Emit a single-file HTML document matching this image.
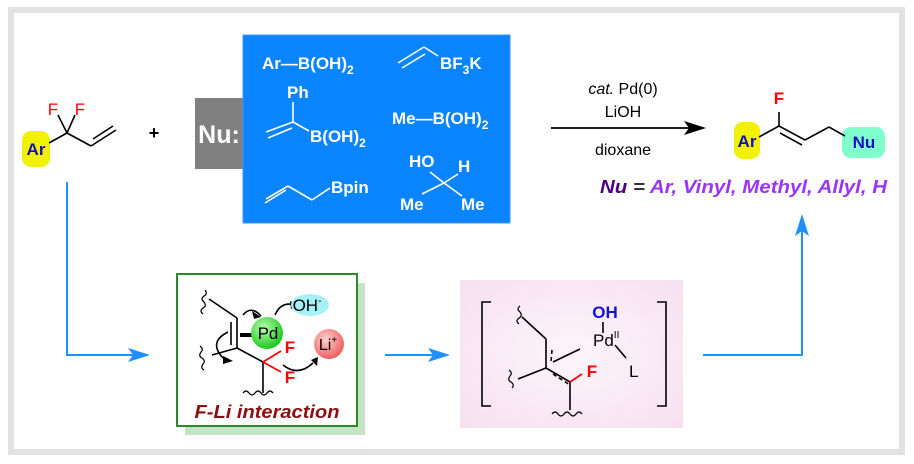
<!DOCTYPE html>
<html><head><meta charset="utf-8"><style>
html,body{margin:0;padding:0;background:#fff;}
svg{display:block;font-family:"Liberation Sans",Arial,sans-serif;}
</style></head><body>
<svg width="914" height="464" viewBox="0 0 914 464" xmlns="http://www.w3.org/2000/svg">
<defs>
<radialGradient id="gG" cx="40%" cy="35%" r="65%"><stop offset="0" stop-color="#b8ffb0"/><stop offset="1" stop-color="#1cc81c"/></radialGradient>
<radialGradient id="gR" cx="40%" cy="35%" r="65%"><stop offset="0" stop-color="#ffd0d0"/><stop offset="1" stop-color="#f06060"/></radialGradient>
<radialGradient id="gP" cx="50%" cy="50%" r="70%"><stop offset="0" stop-color="#fdf5fb"/><stop offset="1" stop-color="#f6e0ef"/></radialGradient>
</defs>
<rect x="11" y="10" width="891" height="442" fill="#fff" stroke="#e2e2e2" stroke-width="6"/>

<!-- starting material -->
<rect x="22" y="131" width="28" height="36" rx="9" fill="#f2f200"/>
<text x="36" y="155" font-size="17" font-weight="bold" fill="#1010c0" text-anchor="middle">Ar</text>
<g stroke="#000" stroke-width="1.6" fill="none">
<line x1="49" y1="143" x2="67" y2="133"/>
<line x1="67" y1="133" x2="91" y2="146"/>
<line x1="91" y1="146" x2="116" y2="130"/>
<line x1="93" y1="139" x2="113" y2="126"/>
</g>
<g stroke="#000" stroke-width="1.6"><line x1="67" y1="133" x2="58" y2="115"/><line x1="67" y1="133" x2="75" y2="115"/></g>
<text x="53" y="115" font-size="17" fill="#f00" text-anchor="middle">F</text>
<text x="80" y="115" font-size="17" fill="#f00" text-anchor="middle">F</text>
<text x="154" y="139" font-size="18" font-weight="bold" text-anchor="middle">+</text>

<!-- Nu box -->
<rect x="195" y="98" width="48" height="71" fill="#808080"/>
<text x="219" y="143" font-size="25" font-weight="bold" fill="#fff" text-anchor="middle">Nu:</text>
<rect x="243" y="35" width="267" height="188" fill="#0a84ff" stroke="#3c96ff"/>
<g fill="#fff" font-size="17" font-weight="bold">
<text x="262" y="69">Ar—B(OH)<tspan font-size="12" dy="5">2</tspan></text>
<text x="440" y="69">BF<tspan font-size="12" dy="5">3</tspan><tspan dy="-5">K</tspan></text>
<text x="287" y="98">Ph</text>
<text x="310" y="142">B(OH)<tspan font-size="12" dy="5">2</tspan></text>
<text x="392" y="124">Me—B(OH)<tspan font-size="12" dy="5">2</tspan></text>
<text x="331" y="193">Bpin</text>
<text x="409" y="167">HO</text>
<text x="458" y="172">H</text>
<text x="400" y="210">Me</text>
<text x="461" y="210">Me</text>
</g>
<g stroke="#fff" stroke-width="1.6" fill="none">
<line x1="398" y1="63" x2="424" y2="47"/><line x1="402" y1="68" x2="425" y2="54"/><line x1="424" y1="47" x2="438" y2="56"/>
<line x1="293" y1="102" x2="293" y2="122"/><line x1="293" y1="122" x2="309" y2="131"/>
<line x1="266" y1="132" x2="293" y2="122"/><line x1="268" y1="138" x2="292" y2="128"/>
<line x1="265" y1="203" x2="286" y2="190"/><line x1="266" y1="199" x2="288" y2="186"/><line x1="288" y1="186" x2="312" y2="200"/><line x1="312" y1="200" x2="330" y2="188"/>
<line x1="444" y1="183" x2="422" y2="194"/><line x1="444" y1="183" x2="430" y2="172"/><line x1="444" y1="183" x2="458" y2="174"/><line x1="444" y1="183" x2="462" y2="196"/>
</g>

<!-- reaction arrow -->
<line x1="551" y1="128" x2="690" y2="128" stroke="#000" stroke-width="1.8"/>
<polygon points="706,128 684,121 689,128 684,135" fill="#000"/>
<text x="623" y="94" font-size="16" text-anchor="middle"><tspan font-style="italic">cat.</tspan> Pd(0)</text>
<text x="623" y="117" font-size="16" text-anchor="middle">LiOH</text>
<text x="623" y="155" font-size="16" text-anchor="middle">dioxane</text>

<!-- product -->
<rect x="734" y="122" width="26" height="37" rx="9" fill="#f2f200"/>
<text x="747" y="147" font-size="17" font-weight="bold" fill="#1010c0" text-anchor="middle">Ar</text>
<rect x="842" y="127" width="43" height="31" rx="9" fill="#80ffcc"/>
<text x="864" y="148" font-size="17" font-weight="bold" fill="#1010c0" text-anchor="middle">Nu</text>
<g stroke="#000" stroke-width="1.6" fill="none">
<line x1="759" y1="137" x2="779" y2="126"/>
<line x1="779" y1="126" x2="805" y2="140"/><line x1="780" y1="133" x2="802" y2="145"/>
<line x1="805" y1="140" x2="829" y2="127"/><line x1="829" y1="127" x2="845" y2="136"/>
</g>
<line x1="779" y1="126" x2="779" y2="112" stroke="#000" stroke-width="1.6"/>
<text x="779" y="104" font-size="17" font-weight="bold" fill="#f00" text-anchor="middle">F</text>
<text x="600" y="193" font-size="18" font-weight="bold" font-style="italic" fill="#9933ff" textLength="287" lengthAdjust="spacingAndGlyphs"><tspan fill="#4b0082">Nu</tspan><tspan fill="#333"> = </tspan>Ar, Vinyl, Methyl, Allyl, H</text>

<!-- blue arrows -->
<g stroke="#1e90ff" stroke-width="2" fill="none">
<polyline points="67,182 67,355 140,355"/>
<line x1="385" y1="355" x2="440" y2="355"/>
<polyline points="703,355 802,355 802,228"/>
</g>
<polygon points="150,355 128,348 133,355 128,362" fill="#1e90ff"/>
<polygon points="450,355 428,348 433,355 428,362" fill="#1e90ff"/>
<polygon points="802,214 795,236 802,231 809,236" fill="#1e90ff"/>

<!-- green box -->
<rect x="185" y="283" width="180" height="152" fill="#c6e3c6"/>
<rect x="177" y="274" width="180" height="152" fill="#fff" stroke="#2a8a2a" stroke-width="2"/>
<g stroke="#000" stroke-width="1.6" fill="none">
<path d="M205,290 q3,4 -1,6 q-4,3 0,6 q3,4 -1,6 q-4,3 0,6" stroke-width="1.2"/>
<line x1="209" y1="299" x2="237" y2="318"/>
<line x1="237" y1="318" x2="237" y2="348"/><line x1="231" y1="322" x2="231" y2="345"/>
<path d="M200,346 q4,3 1,6 q-3,4 1,6 q4,3 1,6 q-3,4 1,6" stroke-width="1.2"/>
<line x1="212" y1="355" x2="237" y2="348"/>
<line x1="237" y1="348" x2="263" y2="362"/>
<line x1="263" y1="362" x2="263" y2="393"/>
<path d="M243,393 q3,-4 6,0 q3,4 6,0 q3,-4 6,0 q3,4 6,0 q3,-4 6,0" stroke-width="1.2"/>
<path d="M243,315 q8,-10 18,1"/>
<path d="M275,315 q6,-14 20,-10"/>
<path d="M228,332 q-20,10 -5,26"/>
<path d="M283,365 q15,12 30,-2"/>
</g>
<line x1="240" y1="335" x2="252" y2="335" stroke="#000" stroke-width="4"/>
<polygon points="261,317 252,311 254,319" fill="#000"/>
<polygon points="299,305 290,301 291,309" fill="#000"/>
<polygon points="233,361 223,356 223,364" fill="#000"/>
<polygon points="318,357 311,360 317,366" fill="#000"/>
<g stroke="#f00" stroke-width="1.8"><line x1="263" y1="362" x2="281" y2="351"/><line x1="263" y1="362" x2="281" y2="372"/></g>
<text x="290" y="353" font-size="17" font-weight="bold" fill="#f00" text-anchor="middle">F</text>
<text x="290" y="383" font-size="17" font-weight="bold" fill="#f00" text-anchor="middle">F</text>
<circle cx="267" cy="333" r="16" fill="url(#gG)"/>
<text x="268" y="339" font-size="17" text-anchor="middle">Pd</text>
<ellipse cx="310" cy="305" rx="19" ry="11" fill="#a6f0f8"/>
<text x="307" y="311" font-size="17" text-anchor="middle">OH<tspan font-size="10" dy="-7">-</tspan></text>
<circle cx="329" cy="344" r="15" fill="url(#gR)"/>
<text x="328" y="350" font-size="16" text-anchor="middle">Li<tspan font-size="10" dy="-7">+</tspan></text>
<text x="267" y="418" font-size="18" font-weight="bold" font-style="italic" fill="#8b1010" text-anchor="middle" textLength="145" lengthAdjust="spacingAndGlyphs">F-Li interaction</text>

<!-- pink box -->
<rect x="460" y="280" width="223" height="148" fill="url(#gP)"/>
<g stroke="#000" stroke-width="1.6" fill="none">
<polyline points="491,302 482,302 482,406 491,406"/>
<polyline points="657,302 666,302 666,406 657,406"/>
<path d="M520,306 q-4,3 0,6 q3,4 -1,6 q-4,3 0,6" stroke-width="1.2"/>
<line x1="522" y1="317" x2="546" y2="339"/>
<line x1="546" y1="339" x2="546" y2="368"/>
<line x1="552" y1="350" x2="551" y2="362" stroke-dasharray="4,3"/>
<line x1="553" y1="362" x2="580" y2="349"/>
<path d="M509,370 q4,3 1,6 q-3,4 1,6 q4,3 1,6" stroke-width="1.2"/>
<line x1="518" y1="379" x2="546" y2="368"/>
<line x1="546" y1="368" x2="570" y2="382"/>
<line x1="553" y1="374" x2="570" y2="385" stroke-dasharray="4,3"/>
<line x1="570" y1="382" x2="570" y2="410"/>
<path d="M552,414 q3,-4 6,0 q3,4 6,0 q3,-4 6,0 q3,4 6,0 q3,-4 6,0" stroke-width="1.2"/>
<line x1="603" y1="322" x2="603" y2="333"/>
<line x1="615" y1="345" x2="626" y2="358"/>
</g>
<line x1="570" y1="382" x2="582" y2="374" stroke="#f00" stroke-width="1.8"/>
<text x="592" y="377" font-size="17" font-weight="bold" fill="#f00" text-anchor="middle">F</text>
<text x="605" y="318" font-size="17" font-weight="bold" fill="#1010e0" text-anchor="middle">OH</text>
<text x="593" y="346" font-size="17">Pd<tspan font-size="10" dy="-8">II</tspan></text>
<text x="629" y="377" font-size="17">L</text>
</svg>
</body></html>
